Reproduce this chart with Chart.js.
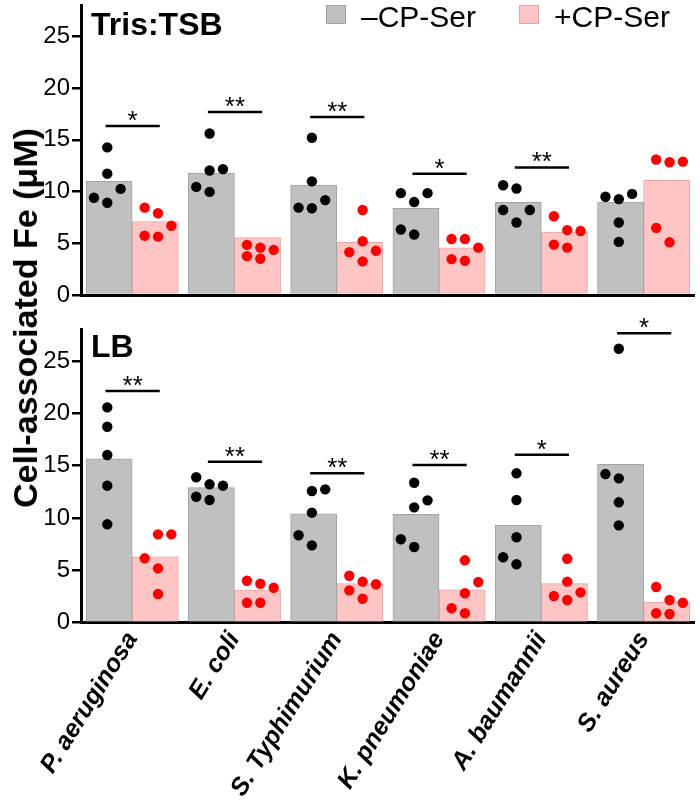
<!DOCTYPE html>
<html><head><meta charset="utf-8">
<script src="https://cdn.jsdelivr.net/npm/chart.js@4.4.1/dist/chart.umd.min.js"></script>
<style>
html,body{margin:0;padding:0;background:#fff;}
#wrap{position:relative;width:700px;height:805px;overflow:hidden;background:#fff;}
#c1{position:absolute;left:0;top:0;}
#c2{position:absolute;left:0;top:310px;}
#ytitle{position:absolute;left:25px;top:318px;transform:translate(-50%,-50%) rotate(-90deg);font:bold 34px 'Liberation Sans',Arial,sans-serif;white-space:nowrap;line-height:1;color:#000;}
</style></head><body>
<div id="wrap">
<canvas id="c1" width="700" height="310"></canvas>
<canvas id="c2" width="700" height="495"></canvas>
<div id="ytitle">Cell-associated Fe (μM)</div>
</div>
<script>
// ---------- data ----------
const categories = ['P. aeruginosa', 'E. coli', 'S. Typhimurium', 'K. pneumoniae', 'A. baumannii', 'S. aureus'];
const seriesNames = ['\u2013CP-Ser', '+CP-Ser'];
const panelNames = ['Tris:TSB', 'LB'];
const yMax = 28;
const yStep = 5;

// Tris:TSB panel
const trisMinusBar = [10.98, 11.78, 10.63, 8.37, 8.95, 8.98];
const trisPlusBar  = [7.10, 5.54, 5.09, 4.56, 6.08, 11.08];
const trisMinusPts = [
  [14.26, 11.72, 9.39, 8.91, 10.25],
  [15.60, 12.03, 12.16, 10.44, 9.96],
  [15.19, 10.98, 8.44, 8.38, 9.17],
  [9.84, 8.98, 9.84, 6.33, 5.85],
  [10.60, 10.29, 8.21, 8.21, 7.00],
  [9.49, 9.26, 9.77, 7.00, 5.13]];
const trisPlusPts = [
  [8.44, 7.90, 6.69, 5.73, 5.64],
  [4.84, 4.58, 4.36, 3.76, 3.50],
  [8.21, 5.19, 4.14, 4.27, 3.25],
  [5.41, 5.41, 4.58, 3.47, 3.31],
  [7.61, 6.27, 6.18, 4.87, 4.58],
  [13.09, 12.83, 12.89, 6.49, 5.09]];
const trisSigY    = [16.33, 17.67, 17.19, 11.72, 12.32, null];
const trisSigText = ['*', '**', '**', '*', '**', ''];

// LB panel
const lbMinusBar = [15.66, 12.90, 10.41, 10.35, 9.30, 15.13];
const lbPlusBar  = [6.30, 3.12, 3.73, 3.15, 3.73, 1.98];
const lbMinusPts = [
  [20.57, 18.72, 16.02, 13.09, 9.40],
  [13.89, 13.22, 13.09, 12.03, 11.72],
  [12.58, 12.74, 10.51, 8.35, 7.39],
  [13.37, 11.69, 11.02, 7.97, 7.23],
  [14.27, 11.72, 8.16, 6.25, 5.58],
  [26.17, 14.20, 13.79, 11.50, 9.30]];
const lbPlusPts = [
  [8.44, 8.44, 6.15, 5.19, 2.74],
  [4.01, 3.72, 3.34, 1.91, 1.91],
  [4.49, 3.92, 3.67, 3.09, 2.29],
  [5.96, 3.89, 2.81, 1.38, 0.90],
  [6.11, 3.92, 2.55, 2.17, 2.90],
  [3.41, 2.17, 1.91, 0.90, 0.83]];
const lbSigY    = [22.13, 15.38, 14.27, 15.06, 16.05, 27.64];
const lbSigText = ['**', '**', '**', '**', '*', '*'];

// ---------- layout (swarm columns of the dots, not data) ----------
const trisMinusCols = [[0,0,-1,0,1],[0,0,1,-1,0],[0,0,-1,0,1],[-1,0,1,-1,0],[-1,0,-1,1,0],[-1,0,1,0,0]];
const trisPlusCols  = [[-1,0,1,-1,0],[-1,0,1,-1,0],[0,0,-1,1,0],[-1,0,1,-1,0],[-1,0,1,-1,0],[-1,0,1,-1,0]];
const lbMinusCols   = [[0,0,0,0,0],[-1,0,1,-1,0],[0,1,0,-1,0],[0,1,0,-1,0],[0,0,0,-1,0],[0,-1,0,0,0]];
const lbPlusCols    = [[0,1,-1,0,0],[-1,0,1,-1,0],[-1,0,1,-1,0],[0,1,0,-1,0],[0,0,-1,0,1],[-1,0,1,-1,0]];

const FONT = "'Liberation Sans', Arial, Helvetica, sans-serif";
Chart.defaults.font.family = FONT;
Chart.defaults.color = '#000';

const GRAY = '#c0c0c0', GRAY_B = '#a3a3a3';
const PINK = '#ffc4c4', PINK_B = '#e6a6a6';
const BAR_HALF = 0.2255;                 // bar centre offset from category centre
const COL_STEP = 0.1305, MINUS_OFF = -0.243, PLUS_OFF = 0.253;

function barData(vals, off) { return vals.map((v, i) => ({x: i + off, y: v})); }
function swarm(pts, cols, off) {
  const out = [];
  pts.forEach((arr, i) => arr.forEach((v, j) => out.push({x: i + off + cols[i][j] * COL_STEP, y: v})));
  return out;
}
function brackets(sigY) {
  const ds = [];
  sigY.forEach((v, i) => {
    if (v == null) return;
    ds.push({type: 'line', label: 'bracket', data: [{x: i - 0.26, y: v}, {x: i + 0.27, y: v}],
      borderColor: '#000', borderWidth: 2.5, pointRadius: 0, fill: false, tension: 0, order: 0});
  });
  return ds;
}

const overlayPlugin = {
  id: 'overlay',
  afterDatasetsDraw(chart, args, opts) {
    const ctx = chart.ctx, xs = chart.scales.x, y = chart.scales.y, area = chart.chartArea;
    ctx.save();
    ctx.fillStyle = '#000';
    ctx.font = '26px ' + FONT;
    ctx.textAlign = 'center';
    ctx.textBaseline = 'alphabetic';
    opts.sigY.forEach((v, i) => {
      if (v == null || !opts.sigText[i]) return;
      ctx.fillText(opts.sigText[i], xs.getPixelForValue(i + 0.005), y.getPixelForValue(v) + 3);
    });
    ctx.font = 'bold 32px ' + FONT;
    ctx.textAlign = 'left';
    ctx.fillText(opts.panel, area.left + 10, area.top + opts.panelDy);
    if (opts.legend) {
      const L = opts.legend;
      ctx.font = '30px ' + FONT;
      [0, 1].forEach(k => {
        const d = chart.data.datasets[k];
        ctx.fillStyle = d.backgroundColor;
        ctx.fillRect(L.x[k], L.boxY, L.boxW, L.boxH);
        ctx.strokeStyle = d.borderColor;
        ctx.lineWidth = 1;
        ctx.strokeRect(L.x[k] + 0.5, L.boxY + 0.5, L.boxW - 1, L.boxH - 1);
        ctx.fillStyle = '#000';
        ctx.fillText(d.label, L.x[k] + L.textDx, L.baseline);
      });
    }
    ctx.restore();
  }
};

function makeChart(id, opt) {
  const barCommon = {type: 'bar', borderWidth: 1, order: 3, grouped: false, categoryPercentage: 1.0, barPercentage: 1.0};
  const datasets = [
    Object.assign({label: seriesNames[0], data: barData(opt.minusBar, -BAR_HALF), backgroundColor: GRAY, borderColor: GRAY_B}, barCommon),
    Object.assign({label: seriesNames[1], data: barData(opt.plusBar, BAR_HALF), backgroundColor: PINK, borderColor: PINK_B}, barCommon),
    {type: 'scatter', label: seriesNames[0] + ' points', data: swarm(opt.minusPts, opt.minusCols, MINUS_OFF),
     backgroundColor: '#000', borderWidth: 0, pointRadius: 5.2, order: 1},
    {type: 'scatter', label: seriesNames[1] + ' points', data: swarm(opt.plusPts, opt.plusCols, PLUS_OFF),
     backgroundColor: '#ff0000', borderWidth: 0, pointRadius: 5.2, order: 1},
    ...brackets(opt.sigY)
  ];
  return new Chart(document.getElementById(id), {
    type: 'bar',
    data: {datasets},
    plugins: [overlayPlugin],
    options: {
      responsive: false,
      devicePixelRatio: 1,
      animation: false,
      events: [],
      layout: {padding: {top: opt.padTop, right: 3, left: 0, bottom: 0}},
      plugins: {
        legend: {display: false},
        tooltip: {enabled: false},
        overlay: {sigY: opt.sigY, sigText: opt.sigText, panel: opt.panel, panelDy: opt.panelDy, legend: opt.legend}
      },
      scales: {
        x: {
          type: 'linear',
          min: -0.5, max: 5.5,
          offset: false,
          grid: {display: false, drawTicks: false, offset: false},
          border: {display: true, color: '#000', width: 3},
          afterBuildTicks: s => { s.ticks = categories.map((c, i) => ({value: i})); },
          ticks: opt.showX ? {
            display: true, autoSkip: false, minRotation: 58, maxRotation: 58, padding: 4,
            color: '#000', font: {size: 25, weight: 'bold', style: 'italic'},
            callback: (v) => categories[Math.round(v)]
          } : {display: false},
          afterFit: s => { s.height = opt.xHeight; s.paddingLeft = 0; s.paddingRight = 0; }
        },
        y: {
          min: 0, max: yMax,
          grid: {display: true, drawOnChartArea: false, drawTicks: true, tickLength: 9, lineWidth: 2.5, color: '#000'},
          border: {display: true, color: '#000', width: 3},
          ticks: {stepSize: yStep, includeBounds: false, padding: 2, color: '#000', font: {size: 24}},
          afterFit: s => { s.width = 81; s.paddingTop = 0; s.paddingBottom = 0; }
        }
      }
    }
  });
}

makeChart('c1', {
  minusBar: trisMinusBar, plusBar: trisPlusBar, minusPts: trisMinusPts, plusPts: trisPlusPts,
  minusCols: trisMinusCols, plusCols: trisPlusCols, sigY: trisSigY, sigText: trisSigText,
  panel: panelNames[0], panelDy: 30, padTop: 2, xHeight: 15, showX: false,
  legend: {x: [326, 519], boxY: 5, boxW: 20, boxH: 19, textDx: 35, baseline: 27}
});
makeChart('c2', {
  minusBar: lbMinusBar, plusBar: lbPlusBar, minusPts: lbMinusPts, plusPts: lbPlusPts,
  minusCols: lbMinusCols, plusCols: lbPlusCols, sigY: lbSigY, sigText: lbSigText,
  panel: panelNames[1], panelDy: 27, padTop: 19.6, xHeight: 182.3, showX: true,
  legend: null
});
</script>
</body></html>
